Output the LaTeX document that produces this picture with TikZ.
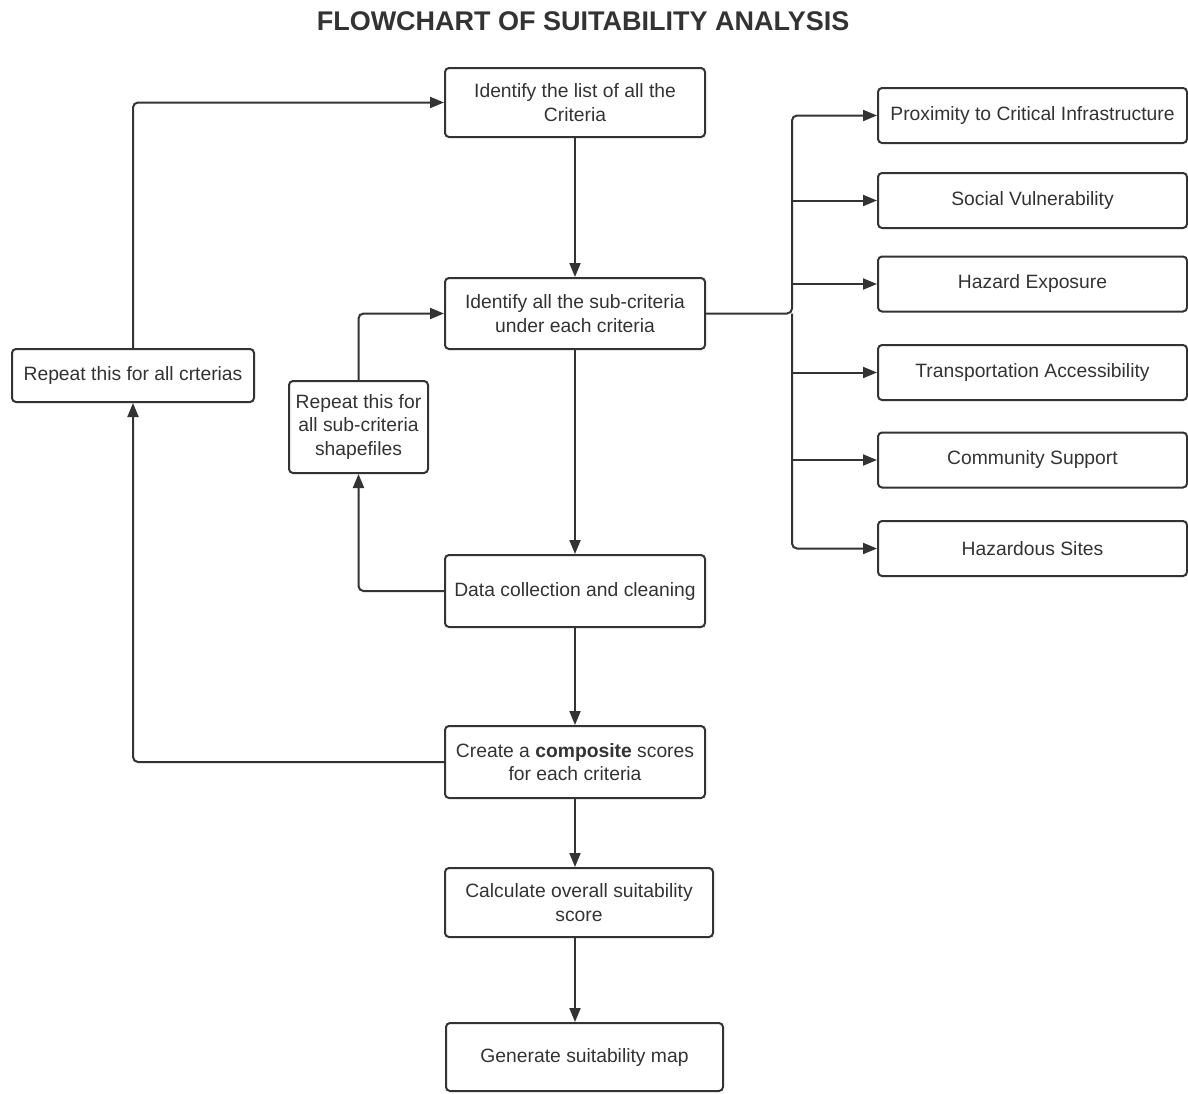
\documentclass[tikz,border=0pt]{standalone}
\usepackage{fontspec}
\setmainfont{Liberation Sans}
\usetikzlibrary{arrows.meta}
\definecolor{ink}{HTML}{333333}
\begin{document}
\begin{tikzpicture}[x=1pt,y=-1pt,
  box/.style={draw=ink, line width=2pt, rounded corners=4pt, inner sep=0pt, align=center, text=ink,
    font=\fontsize{19.3}{23.5}\selectfont},
  side/.style={box, minimum width=309pt, minimum height=55pt},
  arr/.style={draw=ink, line width=2pt, -{Triangle[length=14pt,width=11pt]}, rounded corners=5pt},
  sarr/.style={draw=ink, line width=2pt, -{Triangle[length=14pt,width=11pt]}}]
\useasboundingbox (0,0) rectangle (1188,1093);

\node[text=ink, font=\bfseries\fontsize{27}{30}\selectfont] (title) at (583,21) {FLOWCHART OF SUITABILITY ANALYSIS};

\node[box, minimum width=260pt, minimum height=69pt] (crit) at (575,102.5) {Identify the list of all the\\Criteria};
\node[box, minimum width=260pt, minimum height=71pt] (sub) at (575,313.5) {Identify all the sub-criteria\\under each criteria};
\node[box, minimum width=260pt, minimum height=72pt] (data) at (575,591) {Data collection and cleaning};
\node[box, minimum width=260pt, minimum height=72pt] (comp) at (575,762) {Create a \textbf{composite} scores\\for each criteria};
\node[box, minimum width=268pt, minimum height=69pt] (calc) at (579,902.5) {Calculate overall suitability\\score};
\node[box, minimum width=277pt, minimum height=68pt] (gen) at (584.5,1057) {Generate suitability map};

\node[box, minimum width=242pt, minimum height=53pt] (rcrit) at (133,375.5) {Repeat this for all crterias};
\node[box, minimum width=139pt, minimum height=92pt] (rsub) at (358.5,427) {Repeat this for\\all sub-criteria\\shapefiles};

\node[side] (prox) at (1032.5,115.5) {Proximity to Critical Infrastructure};
\node[side] (soc) at (1032.5,200.5) {Social Vulnerability};
\node[side] (haz) at (1032.5,284) {Hazard Exposure};
\node[side] (tra) at (1032.5,372.5) {Transportation Accessibility};
\node[side] (com) at (1032.5,460) {Community Support};
\node[side] (sit) at (1032.5,548.5) {Hazardous Sites};

\coordinate (tk) at (792,312);

% main flow
\draw[arr] (crit) -- (sub);
\draw[arr] (sub) -- (data);
\draw[arr] (data) -- (comp);
\draw[arr] (comp.south) -- (comp.south |- calc.north);
\draw[arr] (comp.south |- calc.south) -- (comp.south |- gen.north);

% branches to criteria
\draw[arr] (sub.east) -- (sub.east -| tk) |- (prox.west);
\draw[arr] (sub.east -| tk) |- (sit.west);
\foreach \t in {soc,haz,tra,com}{
  \draw[sarr] (tk |- \t.west) -- (\t.west);
}

% feedback loops
\draw[arr] (data.west) -| (rsub.south);
\draw[arr] (rsub.north) |- (sub.west);
\draw[arr] (comp.west) -| (rcrit.south);
\draw[arr] (rcrit.north) |- (crit.west);
\end{tikzpicture}
\end{document}
